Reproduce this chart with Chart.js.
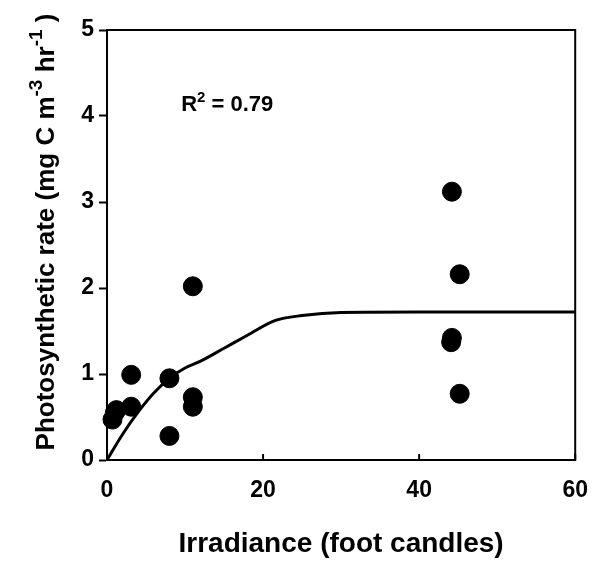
<!DOCTYPE html>
<html>
<head>
<meta charset="utf-8">
<script src="https://cdn.jsdelivr.net/npm/chart.js@4.4.1/dist/chart.umd.min.js"></script>
<style>
  html, body { margin: 0; padding: 0; background: #fff; }
  #wrap { width: 605px; height: 565px; }
</style>
</head>
<body>
<div id="wrap"><canvas id="chart" width="605" height="565"></canvas></div>
<script>
// ---------- Data ----------
// measured rates (irradiance, photosynthetic rate)
const obsX = [0.7, 1.0, 1.2, 3.1, 3.1, 8.0, 8.0, 11.0, 11.0, 11.0, 44.2, 45.2, 44.2, 44.1, 45.2];
const obsY = [0.47, 0.55, 0.58, 0.99, 0.62, 0.95, 0.28, 2.02, 0.73, 0.62, 3.12, 2.16, 1.42, 1.37, 0.77];

// fitted curve
const fitX = [0, 2, 4, 6, 8, 10, 12, 15, 18, 21.5, 25, 30, 40, 50, 60];
const fitY = [0, 0.3, 0.56, 0.78, 0.95, 1.07, 1.15, 1.3, 1.45, 1.62, 1.68, 1.715, 1.72, 1.72, 1.72];

const xRange = [0, 60];
const yRange = [0, 5];
const xStep = 20;
const yStep = 1;
const rSquared = "0.79";

const FONT = "'Liberation Sans', Arial, Helvetica, sans-serif";

// ---------- Extra drawing: frame, inner x ticks, titles ----------
const decorations = {
  id: 'decorations',
  afterDraw(chart) {
    const { ctx, chartArea: a, scales } = chart;
    ctx.save();
    ctx.strokeStyle = '#000';
    ctx.lineWidth = 2;
    ctx.strokeRect(a.left, a.top, a.right - a.left, a.bottom - a.top);

    // x ticks point into the plot
    scales.x.ticks.forEach(t => {
      const px = scales.x.getPixelForValue(t.value);
      ctx.beginPath();
      ctx.moveTo(px, a.bottom);
      ctx.lineTo(px, a.bottom - 6);
      ctx.stroke();
    });

    ctx.fillStyle = '#000';
    ctx.textBaseline = 'alphabetic';

    const drawPieces = (pieces, x, y, align, size, supSize, lift) => {
      let total = 0;
      pieces.forEach(p => {
        ctx.font = `bold ${p.sup ? supSize : size}px ${FONT}`;
        p.w = ctx.measureText(p.text).width;
        total += p.w;
      });
      let cx = align === 'center' ? x - total / 2 : x;
      ctx.textAlign = 'left';
      pieces.forEach(p => {
        ctx.font = `bold ${p.sup ? supSize : size}px ${FONT}`;
        ctx.fillText(p.text, cx, p.sup ? y - lift : y);
        cx += p.w;
      });
    };

    // y axis title, rotated
    ctx.save();
    ctx.translate(54, 232);
    ctx.rotate(-Math.PI / 2);
    drawPieces([
      { text: 'Photosynthetic rate (mg C m' },
      { text: '-3', sup: true },
      { text: ' hr' },
      { text: '-1', sup: true },
      { text: ' )' }
    ], 0, 0, 'center', 26, 19, 12);
    ctx.restore();

    // R squared note
    drawPieces([
      { text: 'R' },
      { text: '2', sup: true },
      { text: ' = ' + rSquared }
    ], scales.x.getPixelForValue(9.5), scales.y.getPixelForValue(4.06), 'left', 22, 15, 9);

    ctx.restore();
  }
};

// ---------- Chart ----------
Chart.defaults.font.family = FONT;
Chart.defaults.color = '#000';

new Chart(document.getElementById('chart'), {
  type: 'scatter',
  data: {
    datasets: [
      {
        label: 'Observed',
        data: obsX.map((x, i) => ({ x, y: obsY[i] })),
        backgroundColor: '#000',
        borderColor: '#000',
        pointRadius: 9.5,
        pointHoverRadius: 9.5,
        clip: false
      },
      {
        label: 'Fit',
        data: fitX.map((x, i) => ({ x, y: fitY[i] })),
        showLine: true,
        borderColor: '#000',
        borderWidth: 3,
        pointRadius: 0,
        cubicInterpolationMode: 'monotone',
        fill: false
      }
    ]
  },
  options: {
    responsive: false,
    animation: false,
    devicePixelRatio: 1,
    layout: { padding: { top: 30, right: 17, bottom: 0, left: 0 } },
    plugins: {
      legend: { display: false },
      tooltip: { enabled: false }
    },
    scales: {
      x: {
        type: 'linear',
        min: xRange[0],
        max: xRange[1],
        afterFit(s) { s.height = 105; },
        ticks: {
          stepSize: xStep,
          padding: 17,
          maxRotation: 0,
          font: { size: 23, weight: 'bold' },
          color: '#000'
        },
        grid: { drawOnChartArea: false, drawTicks: false },
        border: { color: '#000', width: 2 },
        title: {
          display: true,
          text: 'Irradiance (foot candles)',
          font: { size: 28, weight: 'bold' },
          color: '#000',
          padding: { top: 26 }
        }
      },
      y: {
        type: 'linear',
        min: yRange[0],
        max: yRange[1],
        afterFit(s) { s.width = 107; },
        ticks: {
          stepSize: yStep,
          padding: 5,
          font: { size: 23, weight: 'bold' },
          color: '#000'
        },
        grid: { drawOnChartArea: false, drawTicks: true, tickLength: 8, color: '#000', tickWidth: 2 },
        border: { color: '#000', width: 2 }
      }
    }
  },
  plugins: [decorations]
});
</script>
</body>
</html>
